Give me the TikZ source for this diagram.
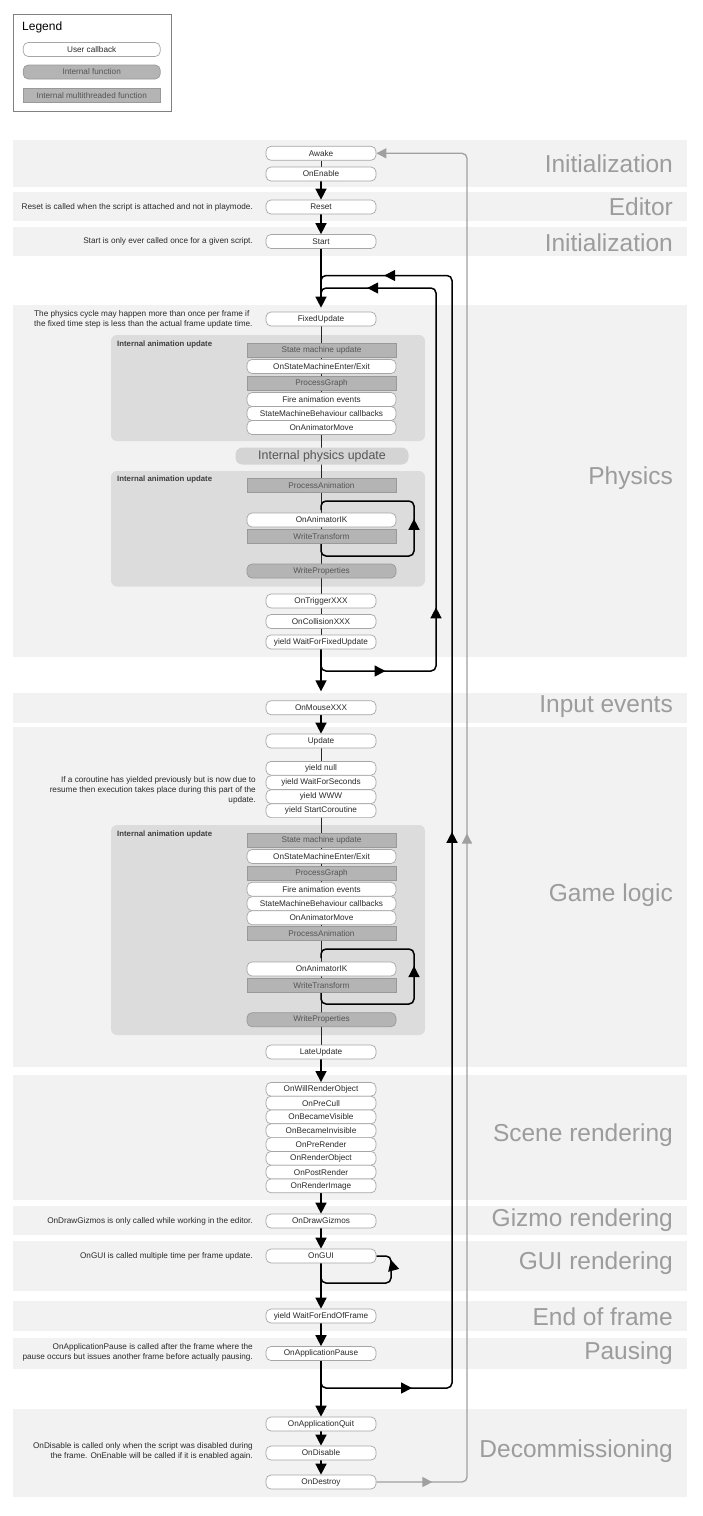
\documentclass[tikz,border=0pt]{standalone}
\usepackage{fontspec}
\setmainfont{Liberation Sans}
\usetikzlibrary{arrows.meta,decorations.markings}
\pgfdeclarelayer{back}
\pgfdeclarelayer{edges}
\pgfsetlayers{back,edges,main}
\definecolor{bandc}{HTML}{F2F2F2}
\definecolor{aboxc}{HTML}{DCDCDC}
\definecolor{intc}{HTML}{B4B4B4}
\definecolor{iborder}{HTML}{999999}
\definecolor{nborder}{HTML}{A6A6A6}
\definecolor{lblc}{HTML}{9C9C9C}
\definecolor{ntext}{HTML}{2A2A2A}
\definecolor{itext}{HTML}{555555}
\definecolor{gloop}{HTML}{A0A0A0}
\definecolor{ipuc}{HTML}{D4D4D4}
\definecolor{legb}{HTML}{808080}
\newcommand\fnodesz{\fontsize{8.2}{10}\selectfont}
\newcommand\fsecsz{\fontsize{24.5}{26}\selectfont}
\begin{document}
\begin{tikzpicture}[x=1pt,y=-1pt,
  >={Triangle[width=11pt,length=11pt]},
  cb/.style={draw=nborder,line width=0.7pt,fill=white,rounded corners=5pt,minimum width=110pt,minimum height=14pt,inner sep=0pt,font=\fnodesz,text=ntext},
  wnode/.style={minimum width=149pt},
  ifn/.style={cb,fill=intc,draw=iborder,text=itext},
  mtf/.style={ifn,rounded corners=0pt},
  scn/.style={cb,minimum height=13.8pt},
  cmt/.style={font=\fnodesz,text=ntext,inner sep=0pt,align=right,anchor=east},
  sec/.style={font=\fsecsz,text=lblc,anchor=east,inner sep=0pt},
  bandf/.style={fill=bandc},
  aboxf/.style={fill=aboxc,rounded corners=6pt},
  alabel/.style={font=\bfseries\fontsize{7.8}{9}\selectfont,text=ntext!90,anchor=west,inner sep=0pt},
  mainln/.style={line width=1.5pt,black},
  thinln/.style={line width=1pt,black!85},
  gln/.style={line width=1.3pt,gloop},
  marks/.style={postaction={decorate,decoration={markings,#1}}}
]
\useasboundingbox (0,0) rectangle (703,1516);

% ---------- backgrounds ----------
\begin{pgfonlayer}{back}
\fill[white] (0,0) rectangle (703,1516);
\fill[bandf] (13,140) rectangle (687,186.5);
\fill[bandf] (13,192) rectangle (687,221);
\fill[bandf] (13,227) rectangle (687,256);
\fill[bandf] (13,304.5) rectangle (687,657);
\fill[bandf] (13,692.7) rectangle (687,722.7);
\fill[bandf] (13,726.7) rectangle (687,1067);
\fill[bandf] (13,1075) rectangle (687,1200);
\fill[bandf] (13,1206) rectangle (687,1235);
\fill[bandf] (13,1241) rectangle (687,1291);
\fill[bandf] (13,1300.5) rectangle (687,1331);
\fill[bandf] (13,1338) rectangle (687,1369);
\fill[bandf] (13,1409) rectangle (687,1497);
\fill[aboxf] (111,335) rectangle (425,441);
\fill[aboxf] (111,471) rectangle (425,586.5);
\fill[aboxf] (111,825) rectangle (425,1035);
\end{pgfonlayer}

% ---------- legend ----------
\draw[legb,line width=0.8pt] (13.5,14) rectangle (171,111);
\node[anchor=west,inner sep=0pt,font=\fontsize{12}{14}\selectfont] (legt) at (22,27) {Legend};
\node[cb,minimum width=137pt] (lg1) at (91.7,49.5) {User callback};
\node[ifn,minimum width=137pt] (lg2) at (91.7,72) {Internal function};
\node[mtf,minimum width=137pt] (lg3) at (91.7,95.3) {Internal multithreaded function};

% ---------- section labels ----------
\node[sec] (s1) at (673,163.5) {Initialization};
\node[sec] (s2) at (673,207) {Editor};
\node[sec] (s3) at (673,242.5) {Initialization};
\node[sec] (s4) at (673,478.5) {Physics};
\node[sec] (s5) at (673,706.5) {Input events};
\node[sec] (s6) at (673,895.5) {Game logic};
\node[sec] (s7) at (673,1135.5) {Scene rendering};
\node[sec] (s8) at (673,1220) {Gizmo rendering};
\node[sec] (s9) at (673,1263.5) {GUI rendering};
\node[sec] (s10) at (673,1316.5) {End of frame};
\node[sec] (s11) at (673,1353) {Pausing};
\node[sec] (s12) at (673,1451.5) {Decommissioning};

% ---------- animation box labels ----------
\node[alabel] (al1) at (117,344) {Internal animation update};
\node[alabel] (al2) at (117,479) {Internal animation update};
\node[alabel] (al3) at (117,834) {Internal animation update};

% ---------- comments ----------
\node[cmt] (cres) at (253,207) {Reset is called when the script is attached and not in playmode.};
\node[cmt] (cst) at (253,241.5) {Start is only ever called once for a given script.};
\node[cmt,anchor=west,align=left] (cphy) at (34,319.5) {The physics cycle may happen more than once per frame if\\the fixed time step is less than the actual frame update time.};
\node[cmt] (ccor) at (256,790) {If a coroutine has yielded previously but is now due to\\resume then execution takes place during this part of the\\update.};
\node[cmt] (cgiz) at (253,1221) {OnDrawGizmos is only called while working in the editor.};
\node[cmt] (cgui) at (253,1256) {OnGUI is called multiple time per frame update.};
\node[cmt] (cpau) at (253,1352) {OnApplicationPause is called after the frame where the\\pause occurs but issues another frame before actually pausing.};
\node[cmt] (cdis) at (253,1451) {OnDisable is called only when the script was disabled during\\the frame. OnEnable will be called if it is enabled again.};

% ---------- main nodes ----------
\node[cb] (awake) at (321,153.3) {Awake};
\node[cb] (onen) at (321,174) {OnEnable};
\node[cb] (reset) at (321,207) {Reset};
\node[cb] (start) at (321,241.5) {Start};
\node[cb] (fixed) at (321,319) {FixedUpdate};

\node[mtf,wnode] (smu1) at (321.5,350) {State machine update};
\node[cb,wnode] (osm1) at (321.5,366.5) {OnStateMachineEnter/Exit};
\node[mtf,wnode] (pg1) at (321.5,383) {ProcessGraph};
\node[cb,wnode] (fae1) at (321.5,399.5) {Fire animation events};
\node[cb,wnode] (smb1) at (321.5,413.5) {StateMachineBehaviour callbacks};
\node[cb,wnode] (oam1) at (321.5,427.5) {OnAnimatorMove};

\node[fill=ipuc,rounded corners=7pt,minimum width=173pt,minimum height=17pt,inner sep=0pt,font=\fontsize{12.4}{14}\selectfont,text=itext] (ipu) at (322,456) {Internal physics update};

\node[mtf,wnode] (pa2) at (321.5,485.5) {ProcessAnimation};
\node[cb,wnode] (oik2) at (321.5,520) {OnAnimatorIK};
\node[mtf,wnode] (wt2) at (321.5,536.5) {WriteTransform};
\node[ifn,wnode] (wp2) at (321.5,571) {WriteProperties};

\node[cb] (otr) at (321,601) {OnTriggerXXX};
\node[cb] (ocol) at (321,621.5) {OnCollisionXXX};
\node[cb] (wffu) at (321,642) {yield WaitForFixedUpdate};

\node[cb] (mouse) at (321,707.7) {OnMouseXXX};
\node[cb] (update) at (321,741) {Update};
\node[cb,minimum height=13.8pt] (ynull) at (321,768.3) {yield null};
\node[cb,minimum height=13.8pt] (ywfs) at (321,782.5) {yield WaitForSeconds};
\node[cb,minimum height=13.8pt] (ywww) at (321,796.7) {yield WWW};
\node[cb,minimum height=13.8pt] (ysc) at (321,810.7) {yield StartCoroutine};

\node[mtf,wnode] (smu3) at (321.5,840) {State machine update};
\node[cb,wnode] (osm3) at (321.5,856.5) {OnStateMachineEnter/Exit};
\node[mtf,wnode] (pg3) at (321.5,873) {ProcessGraph};
\node[cb,wnode] (fae3) at (321.5,889.3) {Fire animation events};
\node[cb,wnode] (smb3) at (321.5,903.6) {StateMachineBehaviour callbacks};
\node[cb,wnode] (oam3) at (321.5,917.7) {OnAnimatorMove};
\node[mtf,wnode] (pa3) at (321.5,933.3) {ProcessAnimation};
\node[cb,wnode] (oik3) at (321.5,969) {OnAnimatorIK};
\node[mtf,wnode] (wt3) at (321.5,985.3) {WriteTransform};
\node[ifn,wnode] (wp3) at (321.5,1019.7) {WriteProperties};

\node[cb] (late) at (321,1052) {LateUpdate};

\node[scn] (sc1) at (321,1089.3) {OnWillRenderObject};
\node[scn] (sc2) at (321,1103.1) {OnPreCull};
\node[scn] (sc3) at (321,1116.9) {OnBecameVisible};
\node[scn] (sc4) at (321,1130.7) {OnBecameInvisible};
\node[scn] (sc5) at (321,1144.5) {OnPreRender};
\node[scn] (sc6) at (321,1158.3) {OnRenderObject};
\node[scn] (sc7) at (321,1172.1) {OnPostRender};
\node[scn] (sc8) at (321,1185.9) {OnRenderImage};

\node[cb] (gizmos) at (321,1221) {OnDrawGizmos};
\node[cb] (ongui) at (321,1256) {OnGUI};
\node[cb] (weof) at (321,1316) {yield WaitForEndOfFrame};
\node[cb] (oap) at (321,1353.5) {OnApplicationPause};
\node[cb] (oaq) at (321,1424) {OnApplicationQuit};
\node[cb] (odis) at (321,1453) {OnDisable};
\node[cb] (odes) at (321,1482) {OnDestroy};

% ---------- coordinates for loops ----------
\coordinate (la1) at (436,671);
\coordinate (la2) at (436,288);
\coordinate (ja) at (321,300);
\coordinate (lb1) at (452,1388);
\coordinate (lb2) at (452,275.5);
\coordinate (jb) at (321,290);
\coordinate (g1) at (467,1482);
\coordinate (g2) at (467,153.3);
\coordinate (p1) at (414,556);
\coordinate (p2) at (414,501);
\coordinate (pj) at (321,510);
\coordinate (q1) at (414,1004);
\coordinate (q2) at (414,949);
\coordinate (qj) at (321,958);
\coordinate (gj) at (321,1270);
\coordinate (u1) at (391,1283);
\coordinate (u2) at (391,1256);

% ---------- connectors ----------
\begin{pgfonlayer}{edges}
\draw[thinln] (awake) -- (onen);
\draw[mainln,->] (onen) -- (reset);
\draw[mainln,->] (reset) -- (start);
\draw[mainln,->,shorten >=4pt] (start) -- (fixed);
\draw[thinln] (fixed) -- (wffu);
\draw[mainln,->,shorten >=9pt] (wffu) -- (mouse);
\draw[mainln,->] (mouse) -- (update);
\draw[thinln] (update) -- (late);
\draw[mainln,->] (late) -- (sc1);
\draw[thinln] (sc1) -- (sc8);
\draw[mainln,->] (sc8) -- (gizmos);
\draw[mainln,->] (gizmos) -- (ongui);
\draw[mainln,->] (ongui) -- (weof);
\draw[mainln,->] (weof) -- (oap);
\draw[mainln,->] (oap) -- (oaq);
\draw[mainln,->] (oaq) -- (odis);
\draw[mainln,->] (odis) -- (odes);

% physics loop
\draw[mainln,rounded corners=5pt,marks={mark=at position 84pt with {\arrow{Triangle[width=11pt,length=11pt]}},mark=at position 196pt with {\arrow{Triangle[width=11pt,length=11pt]}},mark=at position 582pt with {\arrow{Triangle[width=11pt,length=11pt]}}}]
  (wffu.south) |- (la1) -- (la2) -| (ja);
% frame loop
\draw[mainln,rounded corners=5pt,marks={mark=at position 116pt with {\arrow{Triangle[width=11pt,length=11pt]}},mark=at position 710pt with {\arrow{Triangle[width=11pt,length=11pt]}},mark=at position 1332pt with {\arrow{Triangle[width=11pt,length=11pt]}}}]
  (oap.south) |- (lb1) -- (lb2) -| (jb);
% lifecycle (grey) loop
\draw[gln,rounded corners=5pt,-{Triangle[width=10pt,length=10pt]},marks={mark=at position 56pt with {\arrow{Triangle[width=10pt,length=10pt]}},mark=at position 737pt with {\arrow{Triangle[width=10pt,length=10pt]}}}]
  (odes.east) -- (g1) -- (g2) -- (awake.east);
% animation IK loops
\draw[mainln,rounded corners=5pt,marks={mark=at position 138pt with {\arrow{Triangle[width=11pt,length=11pt]}}}]
  (wt2.south -| pj) |- (p1) -- (p2) -| (pj);
\draw[mainln,rounded corners=5pt,marks={mark=at position 138pt with {\arrow{Triangle[width=11pt,length=11pt]}}}]
  (wt3.south -| qj) |- (q1) -- (q2) -| (qj);
% OnGUI loop
\draw[mainln,rounded corners=5pt,marks={mark=at position 102pt with {\arrow{Triangle[width=11pt,length=11pt]}}}]
  (gj) |- (u1) -- (u2) -- (ongui.east);
\end{pgfonlayer}
\end{tikzpicture}
\end{document}
